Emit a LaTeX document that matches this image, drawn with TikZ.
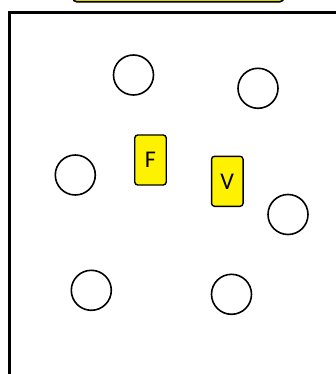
\documentclass[tikz,border=0pt]{standalone}
\usepackage{fontspec}
\setmainfont{Carlito}
\begin{document}
\begin{tikzpicture}[x=1pt,y=-1pt,
  ring/.style={circle,draw=black,line width=1.6pt,minimum size=40pt,inner sep=0pt},
  tag/.style={rectangle,rounded corners=3pt,draw=black,line width=1.4pt,fill=yellow,
    minimum width=31.5pt,minimum height=50pt,inner sep=0pt,font=\fontsize{24}{24}\selectfont},
  topbox/.style={rectangle,rounded corners=4pt,draw=black,line width=1.6pt,fill=yellow,
    minimum width=211pt,minimum height=24pt,inner sep=0pt},
  frame/.style={rectangle,draw=black,line width=3pt,inner sep=0pt}]
\useasboundingbox (0,0) rectangle (336,374);
\clip (0,0) rectangle (336,374);
\fill[white] (0,0) rectangle (336,374);
% top yellow box (cut off by the page edge)
\node[topbox,anchor=south west] (tb) at (72,2.6) {};
% large frame (runs beyond the page on the right and bottom)
\node[frame,minimum width=350pt,minimum height=380pt,anchor=north west] (fr) at (7.5,11) {};
% circles
\node[ring] (c1) at (133.5,75) {};
\node[ring] (c2) at (258,88.3) {};
\node[ring] (c3) at (75.3,175) {};
\node[ring] (c4) at (288,214.5) {};
\node[ring] (c5) at (91.3,290.3) {};
\node[ring] (c6) at (231.5,294.3) {};
% yellow tags
\node[tag] (f) at (150.5,160) {F};
\node[tag] (v) at (227.3,181.3) {V};
\end{tikzpicture}
\end{document}
